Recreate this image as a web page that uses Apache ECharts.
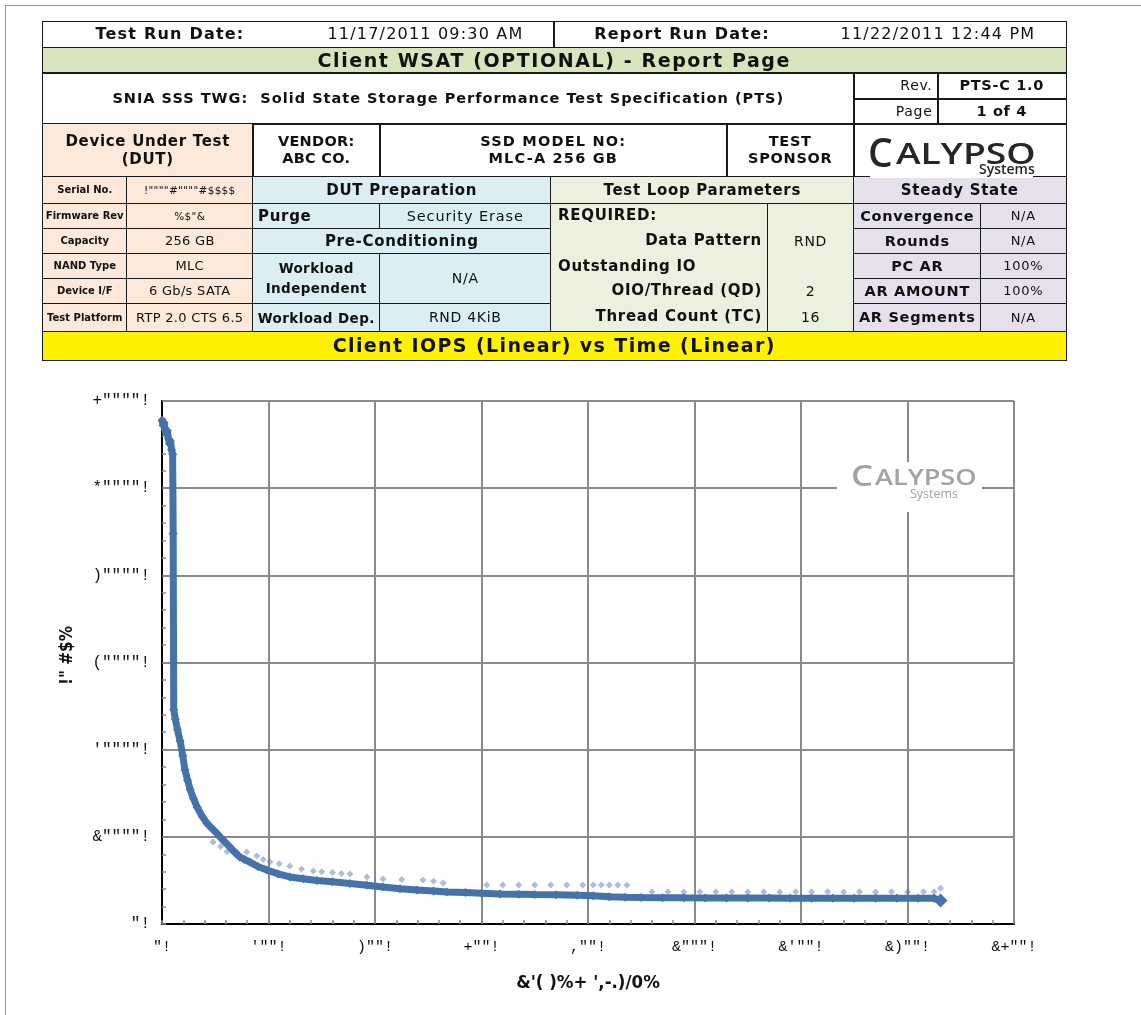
<!DOCTYPE html>
<html>
<head>
<meta charset="utf-8">
<script src="https://cdn.jsdelivr.net/npm/echarts@6/dist/echarts.min.js"></script>
<style>
html,body{margin:0;padding:0;background:#fff;}
#page{position:relative;width:1141px;height:1015px;overflow:hidden;background:#fff;}
#chart{position:absolute;left:0;top:0;width:1141px;height:1015px;}
#frame{position:absolute;left:5px;top:5px;width:1200px;height:1100px;border-left:1px solid #7f9fcf;border-top:1px solid #7f9fcf;}
.c{position:absolute;box-sizing:border-box;border:1.5px solid #1a1a1a;font-family:'DejaVu Sans',Verdana,sans-serif;color:#111;display:flex;align-items:center;justify-content:center;text-align:center;line-height:1.2;overflow:hidden;letter-spacing:0.7px;}
.t{position:absolute;white-space:nowrap;font-family:'DejaVu Sans',Verdana,sans-serif;color:#111;letter-spacing:0.7px;}
</style>
</head>
<body>
<div id="page">
<div id="chart"></div>
<div id="frame"></div>
<div id="hdr"></div>
</div>
<script>
// ---------------- data ----------------
const xTickValues = [0, 200, 400, 600, 800, 1000, 1200, 1400, 1600];
const xTickLabels = ['"!', '\'""!', ')""!', '+""!', ',""!', '&"""!', '&\'""!', '&)""!', '&+""!'];
const yTickValues = [0, 10000, 20000, 30000, 40000, 50000, 60000];
const yTickLabels = ['"!', '&""""!', '\'""""!', '(""""!', ')""""!', '*""""!', '+""""!'];
const xAxisTitle = "&'( )%+ ',-.)/0%";
const yAxisTitle = '!" #$%';

// main IOPS trace: [time, IOPS]
const iopsMain = [
  [0,57800],[2,57200],[4,57500],[6,56700],[8,56300],[10,56600],[12,55700],[14,55100],[16,55400],[18,54400],[20,53900],
  [21,44800],[22,24600],[25,23500],[29,22300],[34,21000],[39,19300],[43,17700],[48,16500],[53,15400],[59,14400],
  [66,13400],[75,12400],[84,11600],[93,11000],[103,10400],[115,9600],[128,8800],[137,8200],[146,7700],[155,7400],
  [165,7100],[180,6600],[197,6200],[218,5750],[240,5400],[265,5200],[291,5000],[320,4850],[353,4650],[385,4450],
  [415,4250],[447,4050],[479,3900],[510,3780],[535,3680],[570,3600],[600,3520],[635,3450],[670,3420],[700,3380],
  [740,3350],[780,3300],[810,3250],[840,3120],[870,3080],[900,3050],[940,3020],[980,3000],[1020,2990],[1060,2980],
  [1100,2970],[1140,2970],[1180,2960],[1220,2960],[1260,2960],[1300,2950],[1340,2950],[1380,2950],[1420,2940],
  [1450,2940],[1462,2700]
];
// faint scattered points above the main trace: [time, IOPS]
const iopsUpper = [
  [96,9400],[110,8900],[122,8300],[140,8250],[159,8250],[178,7800],[190,7400],[203,7100],[220,6900],[240,6650],
  [262,6300],[284,6080],[300,6000],[320,5900],[337,5800],[353,5740],[385,5400],[415,5160],[450,5100],[490,5050],
  [510,4900],[528,4700],[610,4470],[640,4470],[670,4470],[700,4470],[730,4470],[760,4470],[790,4470],[810,4470],
  [825,4480],[840,4480],[856,4460],[873,4450],[920,3700],[950,3700],[980,3680],[1010,3700],[1040,3700],[1070,3690],
  [1100,3680],[1130,3690],[1160,3680],[1190,3690],[1220,3700],[1250,3690],[1280,3680],[1310,3690],[1340,3680],
  [1370,3690],[1400,3680],[1430,3690],[1450,3700],[1462,4100]
];

// ---------------- header table ----------------
const hdr = document.getElementById('hdr');
function cell(x1, y1, x2, y2, html, css) {
  const d = document.createElement('div');
  d.className = 'c';
  d.style.left = x1 + 'px'; d.style.top = y1 + 'px';
  d.style.width = (x2 - x1 + 1.5) + 'px'; d.style.height = (y2 - y1 + 1.5) + 'px';
  d.innerHTML = html || '';
  if (css) d.style.cssText += css;
  hdr.appendChild(d);
  return d;
}
function txt(x, y, s, css) {
  const d = document.createElement('div');
  d.className = 't';
  d.style.left = x + 'px'; d.style.top = y + 'px';
  d.textContent = s;
  if (css) d.style.cssText += css;
  hdr.appendChild(d);
  return d;
}
const PEACH = '#fde9d9', BLUE = '#daeef3', LGREEN = '#ebf1de', LAV = '#e5e0ec';
const LOGO_FONT = "font-family:'Open Sans','DejaVu Sans',sans-serif;";
// row 1
cell(42, 21, 553, 47, '');
cell(553, 21, 1065, 47, '');
txt(42, 24, 'Test Run Date:', 'width:256px;text-align:center;font-weight:bold;font-size:16px;letter-spacing:1.2px;');
txt(298, 24, '11/17/2011 09:30 AM', 'width:255px;text-align:center;font-size:16px;letter-spacing:1.2px;');
txt(553, 24, 'Report Run Date:', 'width:258px;text-align:center;font-weight:bold;font-size:16px;letter-spacing:1.2px;');
txt(811, 24, '11/22/2011 12:44 PM', 'width:254px;text-align:center;font-size:16px;letter-spacing:1.2px;');
// row 2
cell(42, 47, 1065, 72, 'Client WSAT (OPTIONAL) - Report Page', 'background:#d7e4bd;font-weight:bold;font-size:19px;letter-spacing:1.6px;');
// row 3
cell(42, 72, 853, 123, 'SNIA SSS TWG:&nbsp; Solid State Storage Performance Test Specification (PTS)', 'font-weight:bold;font-size:14.5px;letter-spacing:1px;');
cell(853, 72, 937, 98, 'Rev.', 'justify-content:flex-end;padding-right:5px;font-size:14px;');
cell(937, 72, 1065, 98, 'PTS-C 1.0', 'font-weight:bold;font-size:14.5px;');
cell(853, 98, 937, 123, 'Page', 'justify-content:flex-end;padding-right:5px;font-size:14px;');
cell(937, 98, 1065, 123, '1 of 4', 'font-weight:bold;font-size:14.5px;');
// row 4
cell(42, 123, 252, 176, 'Device Under Test<br>(DUT)', 'background:' + PEACH + ';font-weight:bold;font-size:15px;');
cell(252, 123, 379, 176, 'VENDOR:<br>ABC CO.', 'font-weight:bold;font-size:14.5px;letter-spacing:0.3px;');
cell(379, 123, 726, 176, 'SSD MODEL NO:<br>MLC-A 256 GB', 'font-weight:bold;font-size:14.5px;letter-spacing:1.2px;');
cell(726, 123, 853, 176, 'TEST<br>SPONSOR', 'font-weight:bold;font-size:14.5px;');
cell(853, 123, 1065, 176, '');
// left peach block
const ys = [176, 203, 228, 253, 278, 303, 331];
const leftLabels = ['Serial No.', 'Firmware Rev', 'Capacity', 'NAND Type', 'Device I/F', 'Test Platform'];
const leftValues = ['!""""#""""#$$$$', '%$"&', '256 GB', 'MLC', '6 Gb/s SATA', 'RTP 2.0 CTS 6.5'];
for (let i = 0; i < 6; i++) {
  cell(42, ys[i], 126, ys[i + 1], leftLabels[i], 'background:' + PEACH + ';font-weight:bold;font-size:10px;letter-spacing:0;');
  cell(126, ys[i], 252, ys[i + 1], leftValues[i], 'background:' + PEACH + ';font-size:' + (i < 2 ? 10.5 : 13) + 'px;letter-spacing:0.3px;');
}
// DUT preparation
cell(252, 176, 550, 203, 'DUT Preparation', 'background:' + BLUE + ';font-weight:bold;font-size:15px;');
cell(252, 203, 379, 228, 'Purge', 'background:' + BLUE + ';font-weight:bold;font-size:15px;justify-content:flex-start;padding-left:5px;');
cell(379, 203, 550, 228, 'Security Erase', 'background:' + BLUE + ';font-size:14.5px;letter-spacing:0.9px;');
cell(252, 228, 550, 253, 'Pre-Conditioning', 'background:' + BLUE + ';font-weight:bold;font-size:15px;');
cell(252, 253, 379, 303, 'Workload<br>Independent', 'background:' + BLUE + ';font-weight:bold;font-size:13.5px;line-height:1.45;letter-spacing:0.4px;');
cell(379, 253, 550, 303, 'N/A', 'background:' + BLUE + ';font-size:14px;');
cell(252, 303, 379, 331, 'Workload Dep.', 'background:' + BLUE + ';font-weight:bold;font-size:13.5px;letter-spacing:0.4px;');
cell(379, 303, 550, 331, 'RND 4KiB', 'background:' + BLUE + ';font-size:14px;');
// Test loop
cell(550, 176, 853, 203, 'Test Loop Parameters', 'background:' + LGREEN + ';font-weight:bold;font-size:15px;');
cell(550, 203, 767, 331, '', 'background:' + LGREEN + ';');
cell(767, 203, 853, 331, '', 'background:' + LGREEN + ';');
txt(558, 206, 'REQUIRED:', 'font-weight:bold;font-size:15px;');
txt(550, 231, 'Data Pattern', 'width:212px;text-align:right;font-weight:bold;font-size:15px;');
txt(558, 257, 'Outstanding IO', 'font-weight:bold;font-size:15px;');
txt(550, 281, 'OIO/Thread (QD)', 'width:212px;text-align:right;font-weight:bold;font-size:15px;');
txt(550, 307, 'Thread Count (TC)', 'width:212px;text-align:right;font-weight:bold;font-size:15px;');
txt(767, 233, 'RND', 'width:87px;text-align:center;font-size:14px;');
txt(767, 283, '2', 'width:87px;text-align:center;font-size:14px;');
txt(767, 309, '16', 'width:87px;text-align:center;font-size:14px;');
// Steady state
cell(853, 176, 1065, 203, 'Steady State', 'background:' + LAV + ';font-weight:bold;font-size:15px;');
const ssLabels = ['Convergence', 'Rounds', 'PC AR', 'AR AMOUNT', 'AR Segments'];
const ssValues = ['N/A', 'N/A', '100%', '100%', 'N/A'];
for (let i = 0; i < 5; i++) {
  cell(853, ys[i + 1], 980, ys[i + 2], ssLabels[i], 'background:' + LAV + ';font-weight:bold;font-size:14.5px;');
  cell(980, ys[i + 1], 1065, ys[i + 2], ssValues[i], 'background:' + LAV + ';font-size:13px;');
}
// logo (drawn after the cells so its white backing covers the border, as in the original)
const logoBack = document.createElement('div');
logoBack.style.cssText = 'position:absolute;left:870px;top:171px;width:163px;height:7px;background:#fff;';
hdr.appendChild(logoBack);
txt(868, 132, 'C', LOGO_FONT + 'font-size:39px;line-height:39px;font-weight:600;color:#262626;letter-spacing:0;');
txt(896, 139, 'ALYPSO', LOGO_FONT + 'font-size:28px;line-height:28px;font-weight:600;color:#262626;letter-spacing:0;transform:scaleX(1.33);transform-origin:0 0;');
txt(979, 162, 'Systems', LOGO_FONT + 'font-size:14px;line-height:14px;font-weight:600;color:#262626;letter-spacing:0;');
// yellow title
cell(42, 331, 1065, 359, 'Client IOPS (Linear) vs Time (Linear)', 'background:#fff200;font-weight:bold;font-size:19px;letter-spacing:1.4px;');

// ---------------- chart ----------------
const chart = echarts.init(document.getElementById('chart'), null, {renderer: 'canvas'});
const SERIES_COLOR = '#4672aa';
const GRID_COLOR = '#8a8a8a';
const monoFont = "'Liberation Mono','DejaVu Sans Mono',monospace";
const narrowFont = "'Liberation Sans Narrow','DejaVu Sans Condensed','Liberation Sans',sans-serif";
const hiddenAxis = {
  axisLine: {show: true, lineStyle: {color: '#000', width: 2}},
  axisTick: {show: false}, axisLabel: {show: false}, splitLine: {show: false}
};
const WM = '#a3a3a3';
chart.setOption({
  animation: false,
  backgroundColor: 'transparent',
  grid: {left: 162, top: 401, right: 127, bottom: 91},
  xAxis: [{
    type: 'value', min: 0, max: 1600, interval: 200,
    name: xAxisTitle, nameLocation: 'middle', nameGap: 50,
    nameTextStyle: {fontFamily: narrowFont, fontWeight: 'bold', fontSize: 18.5, color: '#111'},
    axisLine: {show: true, lineStyle: {color: GRID_COLOR, width: 2}},
    axisTick: {show: true, inside: true, length: 4, lineStyle: {color: GRID_COLOR, width: 1.5}},
    minorTick: {show: true, splitNumber: 5, length: 4, lineStyle: {color: GRID_COLOR, width: 1.5}},
    splitLine: {show: true, lineStyle: {color: GRID_COLOR, width: 2}},
    axisLabel: {margin: 16, fontFamily: monoFont, fontSize: 15, color: '#111',
      formatter: v => xTickLabels[xTickValues.indexOf(v)]}
  }, Object.assign({type: 'value', position: 'top', min: 0, max: 1600, interval: 200}, hiddenAxis)],
  yAxis: [{
    type: 'value', min: 0, max: 60000, interval: 10000,
    name: yAxisTitle, nameLocation: 'middle', nameGap: 86, nameRotate: 90,
    nameTextStyle: {fontFamily: narrowFont, fontWeight: 'bold', fontSize: 17, color: '#111', padding: [0, 0, 0, 14]},
    axisLine: {show: true, lineStyle: {color: GRID_COLOR, width: 2}},
    axisTick: {show: true, inside: true, length: 4, lineStyle: {color: GRID_COLOR, width: 1.5}},
    minorTick: {show: true, splitNumber: 5, length: 4, lineStyle: {color: GRID_COLOR, width: 1.5}},
    splitLine: {show: true, lineStyle: {color: GRID_COLOR, width: 2}},
    axisLabel: {margin: 12, fontFamily: monoFont, fontSize: 16, color: '#111',
      formatter: v => yTickLabels[yTickValues.indexOf(v)]}
  }, Object.assign({type: 'value', position: 'right', min: 0, max: 60000, interval: 10000}, hiddenAxis)],
  graphic: [
    {type: 'rect', left: 837, top: 462, shape: {width: 145, height: 50}, style: {fill: '#fff'}, z: 5},
    {type: 'text', x: 851, y: 463, scaleX: 1.2, z: 6, style: {text: 'C', font: "600 29px 'Open Sans','DejaVu Sans',sans-serif", fill: WM, verticalAlign: 'top'}},
    {type: 'text', x: 875, y: 469, scaleX: 1.29, z: 6, style: {text: 'ALYPSO', font: "600 21px 'Open Sans','DejaVu Sans',sans-serif", fill: WM, verticalAlign: 'top'}},
    {type: 'text', x: 910, y: 488, z: 6, style: {text: 'Systems', font: "12.5px 'Open Sans','DejaVu Sans',sans-serif", fill: WM, verticalAlign: 'top'}}
  ],
  series: [
    {
      type: 'scatter', data: iopsUpper, symbol: 'diamond', symbolSize: 7,
      itemStyle: {color: SERIES_COLOR, opacity: 0.45}, z: 3, silent: true
    },
    {
      type: 'line', data: iopsMain.map((p, i) => i === iopsMain.length - 1 ? {value: p, symbolSize: 14} : p),
      symbol: 'diamond', symbolSize: 9, showSymbol: true, showAllSymbol: true,
      lineStyle: {color: SERIES_COLOR, width: 7},
      itemStyle: {color: SERIES_COLOR}, z: 4, silent: true
    }
  ]
});
</script>
</body>
</html>
